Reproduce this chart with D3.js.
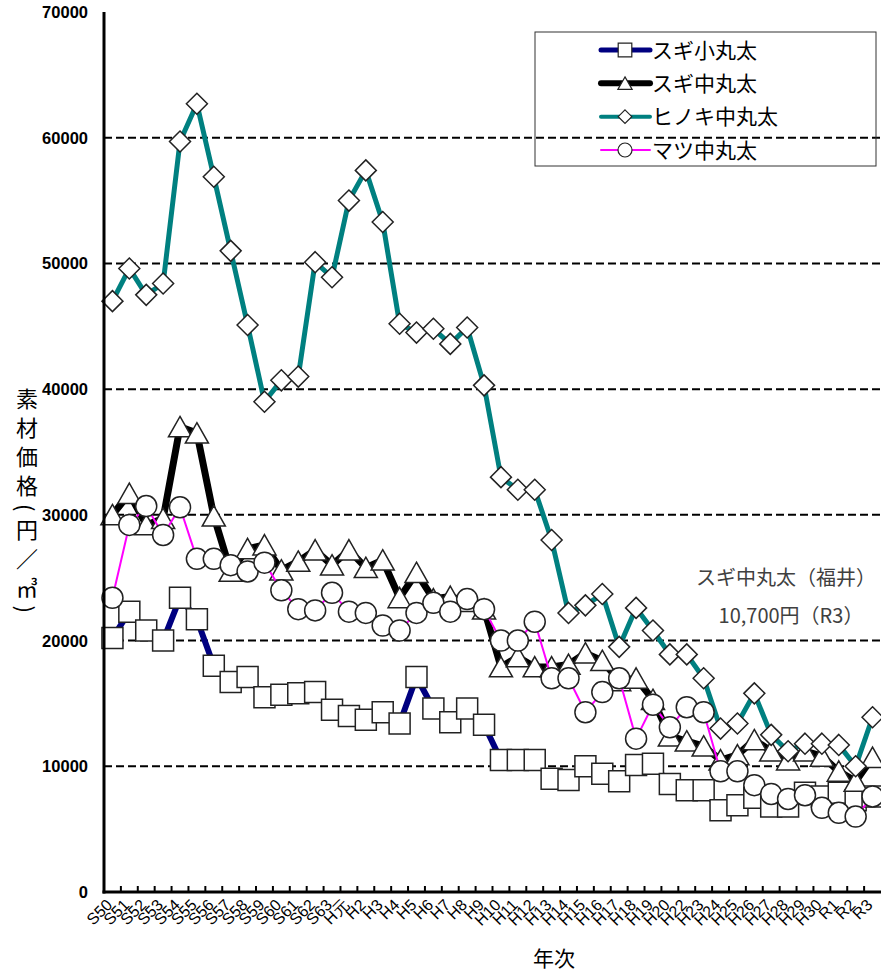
<!DOCTYPE html>
<html>
<head>
<meta charset="utf-8">
<script src="https://cdn.jsdelivr.net/npm/d3@7"></script>
<style>
  body { margin: 0; background: #fff; }
  svg { display: block; }
</style>
</head>
<body>
<div id="vis"></div>
<script>
// years (H21 is not in the source table)
const categories = ["S50","S51","S52","S53","S54","S55","S56","S57","S58","S59","S60","S61","S62","S63",
  "H元","H2","H3","H4","H5","H6","H7","H8","H9","H10","H11","H12","H13","H14","H15","H16","H17","H18","H19","H20",
  "H22","H23","H24","H25","H26","H27","H28","H29","H30","R1","R2","R3"];

const sugiSho = [20200,22300,20800,20000,23400,21700,18000,16700,17100,15500,15700,15800,15900,14500,
  14000,13700,14300,13400,17100,14600,13500,14600,13300,
  10500,10500,10500,9000,8900,10000,9400,8800,10100,10200,8600,
  8100,8100,6500,6900,7500,6800,6800,7900,7600,
  7900,7300,7600];

const sugiChu = [30000,31700,29200,29700,37000,36500,29900,25500,27300,27600,25600,26300,27200,26000,
  27200,25800,26400,23400,25400,23300,23500,23100,22500,
  17900,18700,17900,17900,18100,19000,18400,16800,17000,15300,12400,
  12000,11600,10500,10900,12100,11200,10500,11200,10800,
  9600,8800,10700];

const hinoki = [47000,49600,47500,48400,59700,62700,56900,51000,45100,39000,40700,41000,50100,48900,
  55000,57400,53300,45200,44500,44800,43600,44900,40300,
  33000,32000,32000,28000,22200,22800,23700,19500,22600,20800,18900,
  18900,17000,13000,13400,15800,12500,11200,11800,11800,
  11700,10000,13900];

const matsu = [23400,29200,30700,28400,30600,26500,26500,26000,25500,26200,24000,22500,22400,23800,
  22300,22200,21200,20800,22200,23000,22300,23300,22500,
  20000,20000,21500,17000,17000,14300,15900,17000,12200,14900,13100,
  14700,14300,9600,9600,8500,7800,7400,7700,6700,
  6300,6000,7600];

const yTicks = [0,10000,20000,30000,40000,50000,60000,70000];

const seriesNames = ["スギ小丸太","スギ中丸太","ヒノキ中丸太","マツ中丸太"];

const series = [
  {name: seriesNames[0], values: sugiSho, color: "#000080", width: 6, marker: "square"},
  {name: seriesNames[1], values: sugiChu, color: "#000000", width: 7, marker: "triangle"},
  {name: seriesNames[2], values: hinoki, color: "#008080", width: 5, marker: "diamond"},
  {name: seriesNames[3], values: matsu, color: "#ff00ff", width: 2, marker: "circle"}
];

const W = 881, H = 975;
const plotLeft = 104, plotRight = 881, plotTop = 12, plotBottom = 892;

const svg = d3.select('#vis').append('svg')
  .attr('width', W)
  .attr('height', H)
  .attr('viewBox', [0, 0, W, H].join(' '));

const x = d3.scaleBand().domain(categories).range([plotLeft, plotRight]).padding(0);
const y = d3.scaleLinear().domain([0, 70000]).range([plotBottom, plotTop]);
const cx = d => x(d) + x.bandwidth() / 2;

// marker path, s = half size
function markerPath(type, s) {
  if (type === "square") return `M${-s},${-s}H${s}V${s}H${-s}Z`;
  if (type === "triangle") return `M0,${-s * 0.95}L${s * 1.05},${s * 0.9}L${-s * 1.05},${s * 0.9}Z`;
  if (type === "diamond") return `M0,${-s}L${s},0L0,${s}L${-s},0Z`;
  return d3.symbol(d3.symbolCircle, Math.PI * s * s)();
}

// gridlines
svg.append('g')
  .selectAll('line')
  .data(yTicks.filter(t => t > 0 && t < 70000))
  .join('line')
  .attr('x1', plotLeft).attr('x2', plotRight)
  .attr('y1', d => y(d)).attr('y2', d => y(d))
  .attr('stroke', '#000')
  .attr('stroke-width', 2)
  .attr('stroke-dasharray', '8,4');

// y tick labels
svg.append('g')
  .selectAll('text')
  .data(yTicks)
  .join('text')
  .attr('x', 88)
  .attr('y', d => y(d))
  .attr('dy', '0.36em')
  .attr('text-anchor', 'end')
  .style('font-family', '"Liberation Sans", Arial, sans-serif')
  .style('font-weight', 'bold')
  .style('font-size', '16.5px')
  .text(d => d);

// series
const line = d3.line().x((d, i) => cx(categories[i])).y(d => y(d));

series.forEach(s => {
  const g = svg.append('g');
  g.append('path')
    .datum(s.values)
    .attr('d', line)
    .attr('fill', 'none')
    .attr('stroke', s.color)
    .attr('stroke-width', s.width)
    .attr('stroke-linejoin', 'round');
  g.selectAll('path.m')
    .data(s.values)
    .join('path')
    .attr('class', 'm')
    .attr('transform', (d, i) => `translate(${cx(categories[i])},${y(d)})`)
    .attr('d', markerPath(s.marker, s.marker === "triangle" ? 11 : 10.5))
    .attr('fill', '#fff')
    .attr('stroke', '#222')
    .attr('stroke-width', 1.5);
});

// axes lines
svg.append('line')
  .attr('x1', plotLeft).attr('x2', plotLeft)
  .attr('y1', plotTop).attr('y2', plotBottom + 1.5)
  .attr('stroke', '#000').attr('stroke-width', 3);
svg.append('line')
  .attr('x1', plotLeft - 1.5).attr('x2', plotRight)
  .attr('y1', plotBottom).attr('y2', plotBottom)
  .attr('stroke', '#000').attr('stroke-width', 3);

// x ticks at category boundaries
svg.append('g')
  .selectAll('line')
  .data(categories.slice(1))
  .join('line')
  .attr('x1', d => x(d)).attr('x2', d => x(d))
  .attr('y1', plotBottom).attr('y2', plotBottom - 6)
  .attr('stroke', '#000').attr('stroke-width', 2);

// x tick labels
svg.append('g')
  .selectAll('text')
  .data(categories)
  .join('text')
  .attr('transform', d => `translate(${cx(d) - 3},${plotBottom + 10}) rotate(-45)`)
  .attr('text-anchor', 'end')
  .attr('dy', '0.35em')
  .style('font-family', '"Liberation Sans", Arial, sans-serif')
  .style('font-size', '16px')
  .text(d => d);

// axis titles
svg.append('text')
  .attr('x', 554)
  .attr('y', 966)
  .attr('text-anchor', 'middle')
  .style('font-family', '"Noto Sans CJK JP", sans-serif')
  .style('font-size', '21px')
  .text('年次');

svg.append('text')
  .attr('x', 27)
  .attr('y', 388)
  .style('writing-mode', 'vertical-rl')
  .style('font-family', '"Noto Sans CJK JP", sans-serif')
  .style('font-size', '22px')
  .style('letter-spacing', '7px')
  .text('素材価格(円／㎥)');

// legend
const legend = svg.append('g');
legend.append('rect')
  .attr('x', 535).attr('y', 32)
  .attr('width', 341).attr('height', 134)
  .attr('fill', 'none')
  .attr('stroke', '#333')
  .attr('stroke-width', 1);

const legY = d3.scalePoint().domain(seriesNames).range([50, 150]);
series.forEach(s => {
  const ly = legY(s.name);
  legend.append('line')
    .attr('x1', 601).attr('x2', 650)
    .attr('y1', ly).attr('y2', ly)
    .attr('stroke', s.color)
    .attr('stroke-width', Math.max(2, s.width - 1))
    .attr('stroke-linecap', 'round');
  legend.append('path')
    .attr('transform', `translate(625,${ly})`)
    .attr('d', markerPath(s.marker, s.marker === "circle" ? 7 : 6.8))
    .attr('fill', '#fff')
    .attr('stroke', '#222')
    .attr('stroke-width', 1.2);
  legend.append('text')
    .attr('x', 652)
    .attr('y', ly)
    .attr('dy', '0.36em')
    .style('font-family', '"Noto Sans CJK JP", sans-serif')
    .style('font-size', '21px')
    .text(s.name);
});

// annotation
svg.append('text')
  .attr('x', 696).attr('y', 585)
  .attr('fill', '#404040')
  .style('font-family', '"Noto Sans CJK JP", sans-serif')
  .style('font-size', '20px')
  .text('スギ中丸太（福井）');
svg.append('text')
  .attr('x', 791).attr('y', 623)
  .attr('text-anchor', 'middle')
  .attr('fill', '#404040')
  .style('font-family', '"Noto Sans CJK JP", sans-serif')
  .style('font-size', '20px')
  .text('10,700円（R3）');
</script>
</body>
</html>
